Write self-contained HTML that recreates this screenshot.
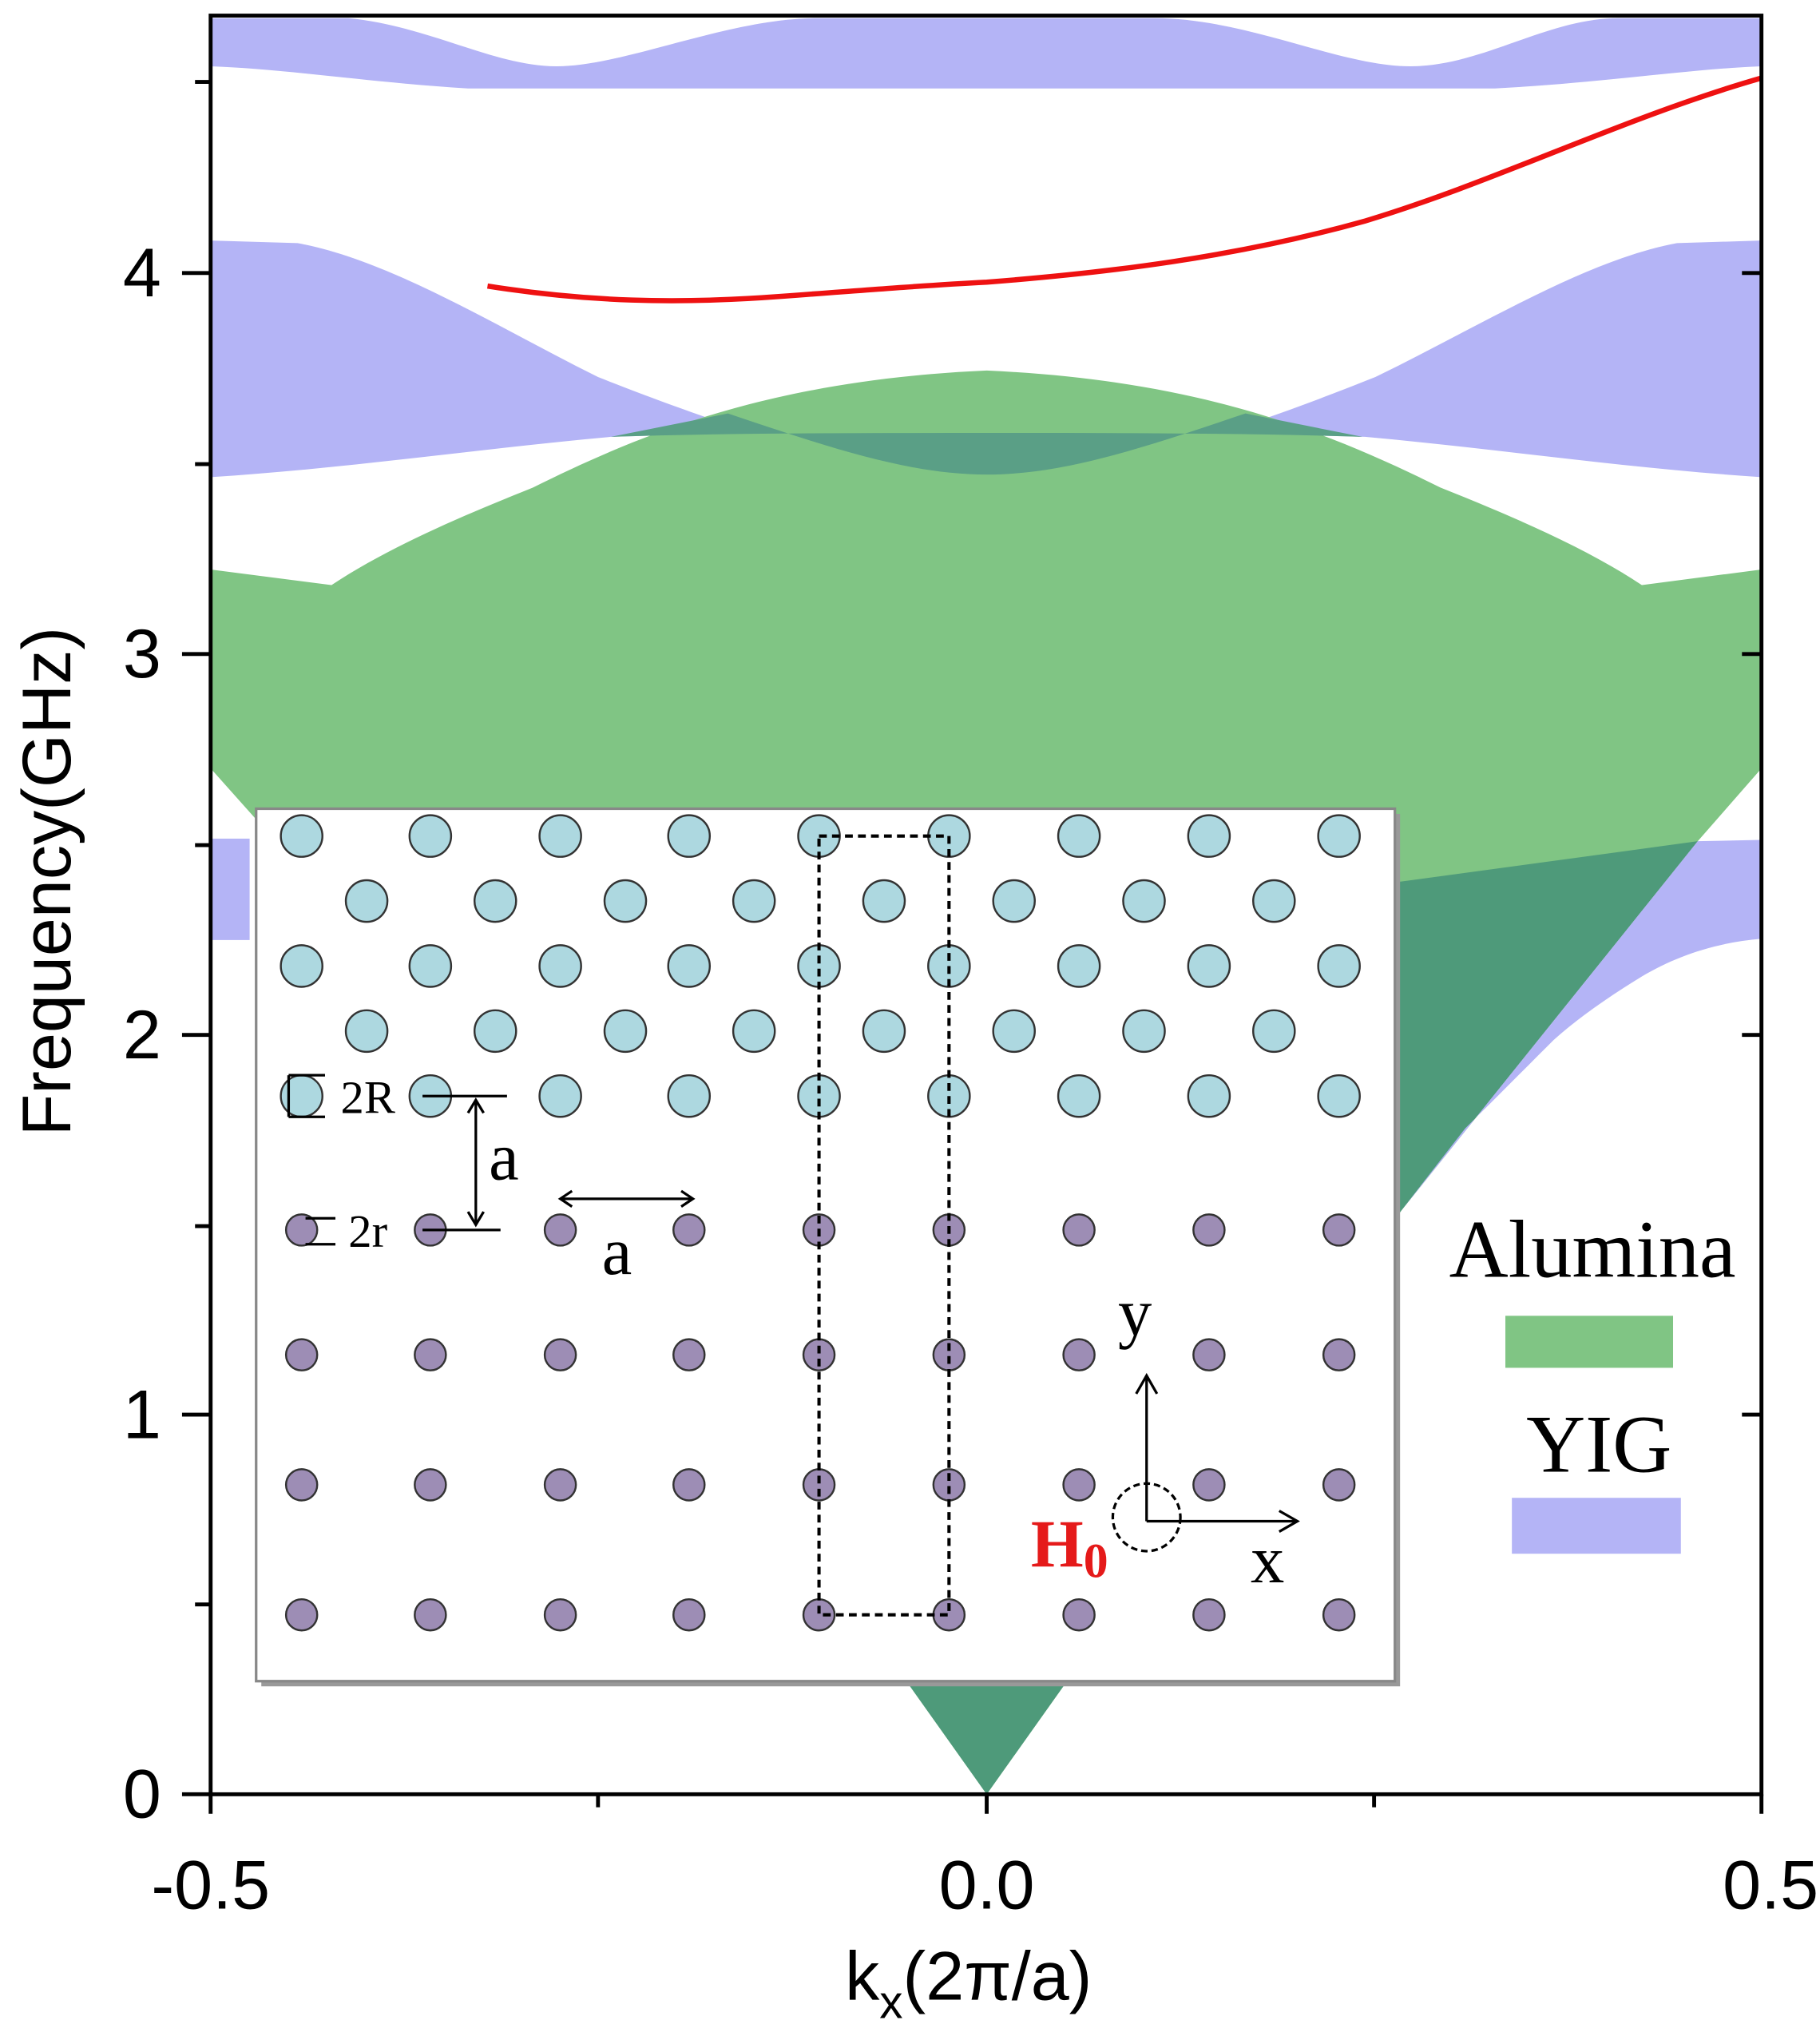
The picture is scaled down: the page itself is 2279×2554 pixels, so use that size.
<!DOCTYPE html>
<html><head><meta charset="utf-8"><style>
html,body{margin:0;padding:0;background:#fff;}
svg{display:block;}
</style></head><body>
<svg width="2279" height="2554" viewBox="0 0 1400 1569" xmlns="http://www.w3.org/2000/svg">
<rect width="1400" height="1569" fill="#fff"/>
<defs><clipPath id="pc"><rect x="162" y="12" width="1193" height="1368"/></clipPath></defs>
<g clip-path="url(#pc)">
<path d="M162,14 L268,14 C330,20 380,51 428,51 C480,51 560,14 628,14 L888,14 C960,14 1030,51 1085,51 C1140,51 1190,14 1245,14 L1355,14 L1355,51 C1300,53 1230,64 1150,68 L360,68 C290,64 220,53 162,51 Z" fill="#b4b4f6"/>
<path d="M162,185 L229,187 C300,200 380,250 460,290 C600,345 680,365 759,365 C840,365 920,345 1058,290 C1140,250 1220,200 1290,187 L1355,185 L1355,367 C1250,360 1150,345 1050,336 C950,333 850,333 759,333 C660,333 560,333 470,336 C370,345 270,360 162,367 Z" fill="#b4b4f6"/>
<path d="M162,438 L255,450 C300,420 360,395 410,375 C500,330 600,292 759,285 C918,292 1018,330 1108,375 C1158,395 1218,420 1263,450 L1355,438 L1355,591 L1306,647 L1078,931 L759,1380 L440,931 L212,647 L162,591 Z" fill="#80c584"/>
<path d="M470,336 C560,333 660,333 759,333 C858,333 958,333 1048,336 L958,318 C878,345 818,365 759,365 C700,365 640,345 560,318 Z" fill="#5a9f86"/>
<path d="M759,1380 L1078,931 L1306,647 L1078,678 C960,690 860,690 759,690 C658,690 558,690 440,678 L212,647 L440,931 Z" fill="#4e9a7a"/>
<path d="M1306,647 L1355,646 L1355,722 C1320,725 1290,735 1263,751 C1240,765 1215,782 1195,800 C1170,825 1150,845 1127,868 L1078,931 Z" fill="#b4b4f6"/>
<rect x="162" y="645" width="30" height="78" fill="#b4b4f6"/>
<path d="M375,220 C450,232 520,234 600,228 C680,222 720,219 759,217 C850,210 950,198 1050,170 C1150,140 1250,90 1355,60" fill="none" stroke="#ee1111" stroke-width="4"/>
</g>
<rect x="162" y="12" width="1193" height="1368" fill="none" stroke="#000" stroke-width="3"/>
<g stroke="#000" stroke-width="3">
<line x1="1355" y1="1088" x2="1340" y2="1088"/><line x1="1355" y1="796" x2="1340" y2="796"/><line x1="1355" y1="503" x2="1340" y2="503"/><line x1="1355" y1="210" x2="1340" y2="210"/>
<line x1="150" y1="1234" x2="162" y2="1234"/><line x1="150" y1="943" x2="162" y2="943"/><line x1="150" y1="650" x2="162" y2="650"/><line x1="150" y1="357" x2="162" y2="357"/><line x1="150" y1="63" x2="162" y2="63"/>
<line x1="140" y1="1380" x2="162" y2="1380"/><line x1="140" y1="1088" x2="162" y2="1088"/><line x1="140" y1="796" x2="162" y2="796"/><line x1="140" y1="503" x2="162" y2="503"/><line x1="140" y1="210" x2="162" y2="210"/>
<line x1="162" y1="1380" x2="162" y2="1395"/><line x1="460" y1="1380" x2="460" y2="1390"/><line x1="759" y1="1380" x2="759" y2="1395"/><line x1="1057" y1="1380" x2="1057" y2="1390"/><line x1="1355" y1="1380" x2="1355" y2="1395"/>
</g>
<g font-family="Liberation Sans, sans-serif" font-size="53" fill="#000">
<text x="124" y="1398" text-anchor="end">0</text>
<text x="124" y="1106" text-anchor="end">1</text>
<text x="124" y="814" text-anchor="end">2</text>
<text x="124" y="521" text-anchor="end">3</text>
<text x="124" y="228" text-anchor="end">4</text>
<text x="162" y="1468" text-anchor="middle">-0.5</text>
<text x="759" y="1468" text-anchor="middle">0.0</text>
<text x="1362" y="1468" text-anchor="middle">0.5</text>
<text x="745" y="1538" text-anchor="middle">k<tspan font-size="36" dy="14">x</tspan><tspan dy="-14">(2π/a)</tspan></text>
<text transform="translate(54,678) rotate(-90)" text-anchor="middle">Frequency(GHz)</text>
</g>
<rect x="201" y="626" width="876" height="671" fill="#999"/>
<rect x="197" y="622" width="876" height="671" fill="#fff" stroke="#888" stroke-width="2"/>
<g fill="#add8e0" stroke="#333" stroke-width="1.5">
<circle cx="232" cy="643" r="16"/><circle cx="331" cy="643" r="16"/><circle cx="431" cy="643" r="16"/><circle cx="530" cy="643" r="16"/><circle cx="630" cy="643" r="16"/><circle cx="730" cy="643" r="16"/><circle cx="830" cy="643" r="16"/><circle cx="930" cy="643" r="16"/><circle cx="1030" cy="643" r="16"/>
<circle cx="282" cy="693" r="16"/><circle cx="381" cy="693" r="16"/><circle cx="481" cy="693" r="16"/><circle cx="580" cy="693" r="16"/><circle cx="680" cy="693" r="16"/><circle cx="780" cy="693" r="16"/><circle cx="880" cy="693" r="16"/><circle cx="980" cy="693" r="16"/>
<circle cx="232" cy="743" r="16"/><circle cx="331" cy="743" r="16"/><circle cx="431" cy="743" r="16"/><circle cx="530" cy="743" r="16"/><circle cx="630" cy="743" r="16"/><circle cx="730" cy="743" r="16"/><circle cx="830" cy="743" r="16"/><circle cx="930" cy="743" r="16"/><circle cx="1030" cy="743" r="16"/>
<circle cx="282" cy="793" r="16"/><circle cx="381" cy="793" r="16"/><circle cx="481" cy="793" r="16"/><circle cx="580" cy="793" r="16"/><circle cx="680" cy="793" r="16"/><circle cx="780" cy="793" r="16"/><circle cx="880" cy="793" r="16"/><circle cx="980" cy="793" r="16"/>
<circle cx="232" cy="843" r="16"/><circle cx="331" cy="843" r="16"/><circle cx="431" cy="843" r="16"/><circle cx="530" cy="843" r="16"/><circle cx="630" cy="843" r="16"/><circle cx="730" cy="843" r="16"/><circle cx="830" cy="843" r="16"/><circle cx="930" cy="843" r="16"/><circle cx="1030" cy="843" r="16"/>
</g>
<g fill="#9d8db5" stroke="#333" stroke-width="1.5">
<circle cx="232" cy="946" r="12"/><circle cx="331" cy="946" r="12"/><circle cx="431" cy="946" r="12"/><circle cx="530" cy="946" r="12"/><circle cx="630" cy="946" r="12"/><circle cx="730" cy="946" r="12"/><circle cx="830" cy="946" r="12"/><circle cx="930" cy="946" r="12"/><circle cx="1030" cy="946" r="12"/>
<circle cx="232" cy="1042" r="12"/><circle cx="331" cy="1042" r="12"/><circle cx="431" cy="1042" r="12"/><circle cx="530" cy="1042" r="12"/><circle cx="630" cy="1042" r="12"/><circle cx="730" cy="1042" r="12"/><circle cx="830" cy="1042" r="12"/><circle cx="930" cy="1042" r="12"/><circle cx="1030" cy="1042" r="12"/>
<circle cx="232" cy="1142" r="12"/><circle cx="331" cy="1142" r="12"/><circle cx="431" cy="1142" r="12"/><circle cx="530" cy="1142" r="12"/><circle cx="630" cy="1142" r="12"/><circle cx="730" cy="1142" r="12"/><circle cx="830" cy="1142" r="12"/><circle cx="930" cy="1142" r="12"/><circle cx="1030" cy="1142" r="12"/>
<circle cx="232" cy="1242" r="12"/><circle cx="331" cy="1242" r="12"/><circle cx="431" cy="1242" r="12"/><circle cx="530" cy="1242" r="12"/><circle cx="630" cy="1242" r="12"/><circle cx="730" cy="1242" r="12"/><circle cx="830" cy="1242" r="12"/><circle cx="930" cy="1242" r="12"/><circle cx="1030" cy="1242" r="12"/>
</g>
<rect x="630" y="643" width="100" height="599" fill="none" stroke="#000" stroke-width="2.5" stroke-dasharray="6,4"/>
<g stroke="#000" stroke-width="2" fill="none">
<line x1="222" y1="827" x2="250" y2="827"/><line x1="222" y1="859" x2="250" y2="859"/><line x1="222" y1="827" x2="222" y2="859"/>
<line x1="325" y1="843" x2="390" y2="843"/><line x1="325" y1="946" x2="385" y2="946"/>
<line x1="366" y1="848" x2="366" y2="942"/>
<path d="M360,856 L366,846 L372,856 M360,932 L366,942 L372,932"/>
<line x1="235" y1="937" x2="258" y2="937"/><line x1="235" y1="957" x2="258" y2="957"/>
<line x1="431" y1="922" x2="533" y2="922"/><path d="M440,916 L431,922 L440,928 M524,916 L533,922 L524,928"/>
<line x1="882" y1="1170" x2="882" y2="1058"/><path d="M874,1072 L882,1058 L890,1072"/>
<line x1="882" y1="1170" x2="998" y2="1170"/><path d="M984,1162 L998,1170 L984,1178"/>
<circle cx="882" cy="1167" r="26" stroke-dasharray="5,3"/>
</g>
<g font-family="Liberation Serif, serif" fill="#000">
<text x="262" y="856" font-size="36">2R</text>
<text x="268" y="959" font-size="36">2r</text>
<text x="376" y="907" font-size="52">a</text>
<text x="463" y="980" font-size="52">a</text>
<text x="860" y="1027" font-size="52">y</text>
<text x="962" y="1217" font-size="52">x</text>
<text x="793" y="1205" font-size="52" font-weight="bold" fill="#e51a1a">H<tspan font-size="38" dy="8">0</tspan></text>
<text x="1225" y="982" font-size="63" text-anchor="middle">Alumina</text>
<text x="1230" y="1132" font-size="63" text-anchor="middle">YIG</text>
</g>
<rect x="1158" y="1012" width="129" height="40" fill="#80c584"/>
<rect x="1163" y="1152" width="130" height="43" fill="#b4b4f6"/>
</svg>
</body></html>
